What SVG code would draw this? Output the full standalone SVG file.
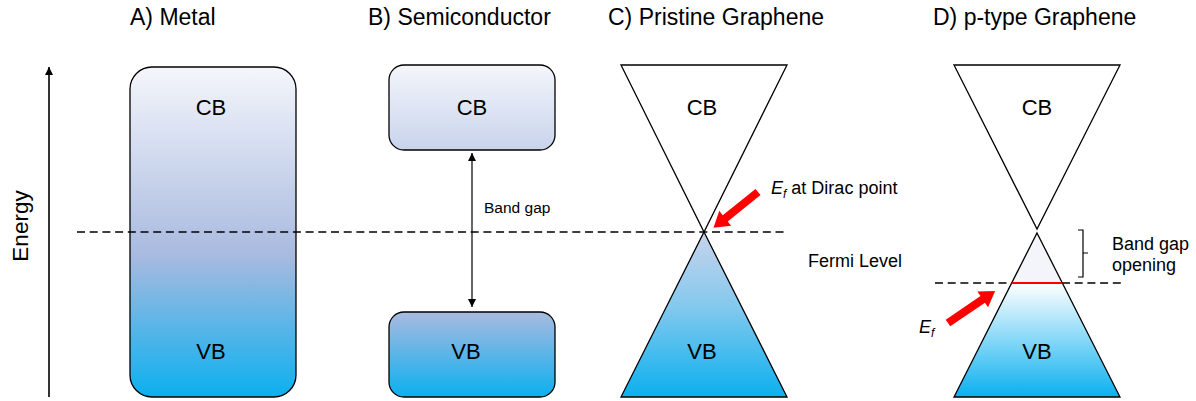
<svg xmlns="http://www.w3.org/2000/svg" width="1196" height="401" viewBox="0 0 1196 401">
  <style>
    text { font-family: "Liberation Sans", Arial, sans-serif; fill: #000; }
    .title { font-size: 23px; }
    .band { font-size: 22px; text-anchor: middle; }
    .note { font-size: 18px; }
    .outline { stroke: #000; stroke-width: 1.3; }
    .dash { stroke: #000; stroke-width: 1.7; stroke-dasharray: 8 4.7; fill: none; }
    .thin { stroke: #000; stroke-width: 1.2; fill: none; }
    .pointer { fill: #ff0000; }
  </style>
  <defs>
    <linearGradient id="gMetal" x1="0" y1="0" x2="0" y2="1">
      <stop offset="0" stop-color="#f4f6fb"/>
      <stop offset="0.57" stop-color="#a9bae0"/>
      <stop offset="1" stop-color="#0bb0ef"/>
    </linearGradient>
    <linearGradient id="gCB" x1="0" y1="0" x2="0" y2="1">
      <stop offset="0" stop-color="#f4f6fb"/>
      <stop offset="1" stop-color="#c8d3ec"/>
    </linearGradient>
    <linearGradient id="gVB" x1="0" y1="0" x2="0" y2="1">
      <stop offset="0" stop-color="#a9bae0"/>
      <stop offset="1" stop-color="#0bb0ef"/>
    </linearGradient>
    <linearGradient id="gCone" x1="0" y1="0" x2="0" y2="1">
      <stop offset="0" stop-color="#c8d3ec"/>
      <stop offset="0.45" stop-color="#84c9ee"/>
      <stop offset="1" stop-color="#0bb0ef"/>
    </linearGradient>
    <linearGradient id="gDoped" gradientUnits="userSpaceOnUse" x1="0" y1="283" x2="0" y2="397">
      <stop offset="0" stop-color="#ffffff"/>
      <stop offset="1" stop-color="#0bb0ef"/>
    </linearGradient>
    <marker id="head" viewBox="0 0 10 10" refX="10" refY="5" markerWidth="8" markerHeight="8" markerUnits="userSpaceOnUse" orient="auto-start-reverse">
      <path d="M0,0 L10,5 L0,10 Z" fill="#000"/>
    </marker>
    <path id="fatArrow" d="M0,-4 L42,-4 L42,-9.5 L57,0 L42,9.5 L42,4 L0,4 Z"/>
  </defs>

  <!-- panel titles -->
  <g id="titles">
    <text class="title" x="130" y="25">A) Metal</text>
    <text class="title" x="368" y="25">B) Semiconductor</text>
    <text class="title" x="608" y="25">C) Pristine Graphene</text>
    <text class="title" x="933" y="25">D) p-type Graphene</text>
  </g>

  <!-- energy axis -->
  <g id="energy-axis">
    <line x1="49" y1="397" x2="49" y2="67" stroke="#000" stroke-width="1.6" marker-end="url(#head)"/>
    <text transform="translate(28,226) rotate(-90)" font-size="22.5" text-anchor="middle">Energy</text>
  </g>

  <!-- A: metal, overlapping bands -->
  <g id="metal">
    <rect x="130" y="67" width="166" height="330" rx="22" ry="22" fill="url(#gMetal)" class="outline"/>
    <text class="band" x="211" y="115">CB</text>
    <text class="band" x="211" y="359">VB</text>
  </g>

  <!-- B: semiconductor -->
  <g id="semi-cb">
    <rect x="389" y="65" width="166" height="85" rx="15" ry="15" fill="url(#gCB)" class="outline"/>
    <text class="band" x="472" y="115">CB</text>
  </g>
  <g id="semi-vb">
    <rect x="389" y="312" width="166" height="85" rx="15" ry="15" fill="url(#gVB)" class="outline"/>
    <text class="band" x="466" y="359">VB</text>
  </g>

  <!-- C: pristine graphene cones -->
  <g id="pristine-cb">
    <polygon points="621,65 787,65 704,232" fill="#fff" class="outline"/>
    <text class="band" x="702" y="115">CB</text>
  </g>
  <g id="pristine-vb">
    <polygon points="704,232 787,397 621,397" fill="url(#gCone)" class="outline"/>
    <text class="band" x="702" y="359">VB</text>
  </g>

  <!-- D: p-type graphene cones -->
  <g id="ptype-cb">
    <polygon points="954,65 1120,65 1037,229" fill="#fff" class="outline"/>
    <text class="band" x="1037" y="115">CB</text>
  </g>
  <g id="ptype-vb">
    <polygon points="1037,233 1062.3,283 1011.7,283" fill="#f3f5fb"/>
    <polygon points="1011.7,283 1062.3,283 1120,397 954,397" fill="url(#gDoped)"/>
    <polygon points="1037,233 1120,397 954,397" fill="none" class="outline"/>
    <text class="band" x="1037" y="359">VB</text>
  </g>

  <!-- connectors, levels and annotations -->
  <g id="connectors">
    <!-- Fermi level through A, B and C -->
    <line class="dash" x1="77" y1="232" x2="788" y2="232"/>
    <!-- Fermi level in D -->
    <line class="dash" x1="935" y1="283" x2="1122" y2="283"/>
    <line x1="1011.7" y1="283" x2="1062.3" y2="283" stroke="#ff0000" stroke-width="2"/>
    <!-- band gap span -->
    <line x1="472" y1="153" x2="472" y2="307" stroke="#000" stroke-width="1.2" marker-start="url(#head)" marker-end="url(#head)"/>
    <!-- band gap opening brace -->
    <path class="thin" d="M1078,230 L1083,230 L1083,253 L1088,253 M1083,253 L1083,277 L1078,277"/>
    <!-- Fermi level pointers -->
    <use href="#fatArrow" class="pointer" transform="translate(758,192) rotate(141.3)"/>
    <use href="#fatArrow" class="pointer" transform="translate(948,323) rotate(-34.2)"/>
  </g>

  <g id="labels">
    <text x="484" y="213" font-size="15.5">Band gap</text>
    <text class="note" x="808" y="267">Fermi Level</text>
    <text class="note" x="771" y="194"><tspan font-style="italic">E</tspan><tspan font-style="italic" font-size="12" dy="4">f</tspan><tspan dy="-4"> at Dirac point</tspan></text>
    <text class="note" x="1112" y="250">Band gap</text>
    <text class="note" x="1112" y="271">opening</text>
    <text class="note" x="919" y="333"><tspan font-style="italic">E</tspan><tspan font-style="italic" font-size="12" dy="4">f</tspan></text>
  </g>
</svg>
